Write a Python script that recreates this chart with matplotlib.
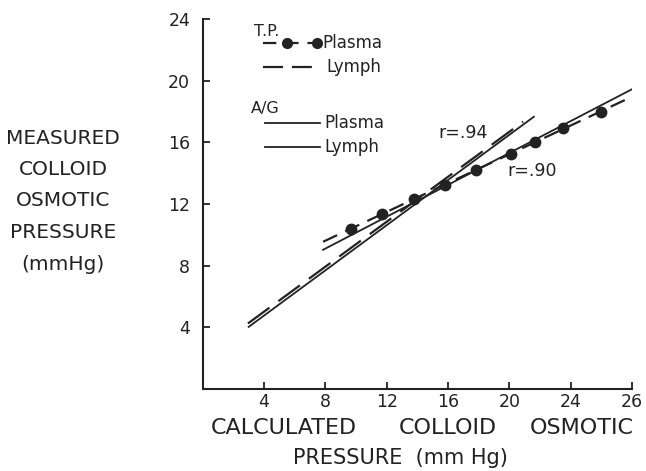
import numpy as np
import matplotlib.pyplot as plt
import matplotlib as mpl

mpl.rcParams['font.family'] = 'DejaVu Sans'

# T.P. plasma points (calculated vs measured)
tp_x = [9.7, 11.7, 13.75, 15.8, 17.8, 20.1, 21.7, 23.5, 26.0]
tp_y = [10.4, 11.35, 12.3, 13.25, 14.2, 15.25, 16.0, 16.9, 18.0]

# fitted lines (end points)
tp_plasma_x = [7.85, 28.3]
tp_plasma_y = [9.55, 19.1]
tp_lymph_x = [7.85, 28.3]
tp_lymph_y = [9.03, 19.6]
ag_dash_x = [2.95, 20.9]
ag_dash_y = [4.25, 17.34]
ag_solid_x = [3.0, 21.6]
ag_solid_y = [4.03, 17.66]

xticks = [4, 8, 12, 16, 20, 24, 28]
xticklabels = ['4', '8', '12', '16', '20', '24', '26']
yticks = [4, 8, 12, 16, 20, 24]

fig = plt.figure(figsize=(6.46, 4.71), dpi=100)
ax = fig.add_axes([202.7/646, 1-389/471, 429.3/646, 370/471])
k = '#222222'

ax.plot(ag_dash_x, ag_dash_y, color=k, lw=1.6, dashes=(12, 5))
ax.plot(ag_solid_x, ag_solid_y, color=k, lw=1.3)
ax.plot(tp_lymph_x, tp_lymph_y, color=k, lw=1.3)
ax.plot(tp_plasma_x, tp_plasma_y, color=k, lw=1.6, dashes=(7, 4))
ax.plot(tp_x, tp_y, 'o', color=k, ms=7.5)

ax.set_xlim(0, 28)
ax.set_ylim(0, 24)
ax.set_xticks(xticks)
ax.set_xticklabels(xticklabels)
ax.set_yticks(yticks)
for s in ['top', 'right']:
    ax.spines[s].set_visible(False)
for s in ['left', 'bottom']:
    ax.spines[s].set_linewidth(1.5)
    ax.spines[s].set_color(k)
ax.tick_params(direction='in', length=5, width=1.3, colors=k, labelsize=12.5)
ax.tick_params(axis='x', pad=3)
ax.tick_params(axis='y', pad=9)

# legend drawn by hand
tr = ax.transAxes
ax.text(0.150, 0.965, 'T.P.', transform=tr, ha='center', va='center', fontsize=11.5, color=k)
ax.plot([0.140, 0.273], [0.935, 0.935], transform=tr, color=k, lw=1.6, dashes=(6, 4), clip_on=False)
ax.plot([0.196, 0.266], [0.935, 0.935], 'o', transform=tr, color=k, ms=7, clip_on=False)
ax.text(0.278, 0.935, 'Plasma', transform=tr, ha='left', va='center', fontsize=12, color=k)
ax.plot([0.140, 0.268], [0.870, 0.870], transform=tr, color=k, lw=1.6, dashes=(9, 4), clip_on=False)
ax.text(0.287, 0.870, 'Lymph', transform=tr, ha='left', va='center', fontsize=12, color=k)
ax.text(0.145, 0.759, 'A/G', transform=tr, ha='center', va='center', fontsize=11.5, color=k)
ax.plot([0.145, 0.273], [0.719, 0.719], transform=tr, color=k, lw=1.3, clip_on=False)
ax.text(0.284, 0.719, 'Plasma', transform=tr, ha='left', va='center', fontsize=12, color=k)
ax.plot([0.145, 0.273], [0.654, 0.654], transform=tr, color=k, lw=1.3, clip_on=False)
ax.text(0.284, 0.654, 'Lymph', transform=tr, ha='left', va='center', fontsize=12, color=k)

ax.text(0.606, 0.692, 'r=.94', transform=tr, ha='center', va='center', fontsize=12.5, color=k)
ax.text(0.767, 0.589, 'r=.90', transform=tr, ha='center', va='center', fontsize=12.5, color=k)

# axis titles
for t, y in zip(['MEASURED', 'COLLOID', 'OSMOTIC', 'PRESSURE', '(mmHg)'],
                [139, 170, 201, 233, 265]):
    fig.text(63/646, 1-y/471, t, ha='center', va='center', fontsize=14.5, color=k)
for t, x in zip(['CALCULATED', 'COLLOID', 'OSMOTIC'], [284, 448, 582]):
    fig.text(x/646, 1-428/471, t, ha='center', va='center', fontsize=16, color=k)
fig.text(400/646, 1-458/471, 'PRESSURE  (mm Hg)', ha='center', va='center', fontsize=15, color=k)

fig.savefig('out.png', dpi=100)
